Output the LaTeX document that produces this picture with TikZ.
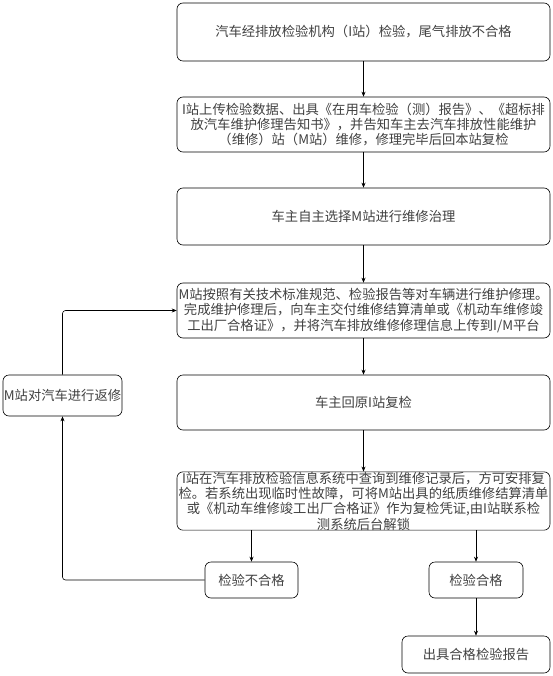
\documentclass[tikz,border=0pt]{standalone}
\usepackage{fontspec}
\setmainfont{Noto Sans CJK SC}
\usepackage{tikz}
\usetikzlibrary{arrows.meta}
\usetikzlibrary{positioning}

\tikzset{
    stepbox/.style={draw,rounded corners=6pt,line width=0.6pt,text=black!75,
        align=center,inner sep=0pt,font=\fontsize{13.3}{15.3}\selectfont},
    flow/.style={-{Stealth[length=5pt,width=4pt]},line width=0.6pt}
}

\begin{document}
\begin{tikzpicture}[x=1pt,y=-1pt]
    \useasboundingbox (0,0) rectangle (553,676);

    % main column
    \node[stepbox,minimum width=373pt,minimum height=58pt] (inspect) at (363.5,32) {汽车经排放检验机构（I站）检验，尾气排放不合格};
    \node[stepbox,minimum width=373pt,minimum height=55pt] (upload) at (363.5,124.5) {I站上传检验数据、出具《在用车检验（测）报告》、《超标排\\放汽车维护修理告知书》，并告知车主去汽车排放性能维护\\（维修）站（M站）维修，修理完毕后回本站复检};
    \node[stepbox,minimum width=373pt,minimum height=57pt] (choose) at (363.5,216.5) {车主自主选择M站进行维修治理};
    \node[stepbox,minimum width=373pt,minimum height=55pt] (repair) at (363.5,310.5) {M站按照有关技术标准规范、检验报告等对车辆进行维护修理。\\完成维护修理后，向车主交付维修结算清单或《机动车维修竣\\工出厂合格证》，并将汽车排放维修修理信息上传到I/M平台};
    \node[stepbox,minimum width=373pt,minimum height=55pt] (recheck) at (363.5,402.5) {车主回原I站复检};
    \node[stepbox,minimum width=373pt,minimum height=58pt] (query) at (363.5,501) {I站在汽车排放检验信息系统中查询到维修记录后，方可安排复\\检。若系统出现临时性故障，可将M站出具的纸质维修结算清单\\或《机动车维修竣工出厂合格证》作为复检凭证,由I站联系检\\测系统后台解锁};

    % results
    \node[stepbox,minimum width=93pt,minimum height=36pt] (fail) at (251.5,580) {检验不合格};
    \node[stepbox,minimum width=94pt,minimum height=36pt] (pass) at (476,580) {检验合格};
    \node[stepbox,minimum width=148pt,minimum height=37pt] (report) at (476,654.5) {出具合格检验报告};
    \node[stepbox,minimum width=119pt,minimum height=41pt] (rework) at (62.5,395.5) {M站对汽车进行返修};

    \draw[flow] (inspect) -- (upload);
    \draw[flow] (upload) -- (choose);
    \draw[flow] (choose) -- (repair);
    \draw[flow] (repair) -- (recheck);
    \draw[flow] (recheck) -- (query);
    \draw[flow] (query.south -| fail) -- (fail);
    \draw[flow] (query.south -| pass) -- (pass);
    \draw[flow] (pass) -- (report);

    % loop back
    \draw[flow,rounded corners=3pt] (fail.west) -| (rework.south);
    \draw[flow,rounded corners=3pt] (rework.north) |- (repair.west);
\end{tikzpicture}
\end{document}
